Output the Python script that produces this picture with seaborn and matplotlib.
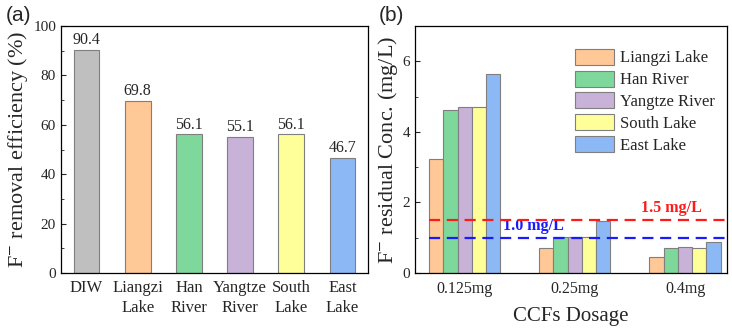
import numpy as np
import pandas as pd
import matplotlib
matplotlib.use('Agg')
import matplotlib.pyplot as plt
from matplotlib.ticker import MultipleLocator
import seaborn as sns

sns.set_style('ticks')
plt.rcParams['font.family'] = ['Liberation Serif', 'DejaVu Serif']
plt.rcParams['mathtext.fontset'] = 'stix'

# ---- data ----
sites = ['DIW', 'Liangzi\nLake', 'Han\nRiver', 'Yangtze\nRiver', 'South\nLake', 'East\nLake']
removal = [90.4, 69.8, 56.1, 55.1, 56.1, 46.7]
site_colors = ['#BFBFBF', '#FFC896', '#7FD89B', '#C8B2D8', '#FFFF99', '#8CB9F5']

dosages = ['0.125mg', '0.25mg', '0.4mg']
waters = ['Liangzi Lake', 'Han River', 'Yangtze River', 'South Lake', 'East Lake']
residual = {
    'Liangzi Lake':  [3.22, 0.72, 0.46],
    'Han River':     [4.63, 1.02, 0.72],
    'Yangtze River': [4.70, 1.02, 0.75],
    'South Lake':    [4.70, 1.03, 0.72],
    'East Lake':     [5.65, 1.48, 0.88],
}
limits = [1.5, 1.0]
limit_labels = ['1.5 mg/L', '1.0 mg/L']
limit_colors = ['#FF1A1A', '#1A1AFF']

EDGE = '#7F7F7F'

fig = plt.figure(figsize=(7.32, 3.29), dpi=100)
ax1 = fig.add_axes([0.0833, 0.170, 0.4194, 0.751])
ax2 = fig.add_axes([0.567, 0.170, 0.426, 0.751])

# ---- (a) removal efficiency ----
dfa = pd.DataFrame({'site': sites, 'removal': removal})
sns.barplot(data=dfa, x='site', y='removal', hue='site', palette=site_colors,
            legend=False, width=0.5, edgecolor=EDGE, linewidth=0.8,
            saturation=1, ax=ax1)
for i, v in enumerate(removal):
    ax1.text(i, v + 0.6, f'{v:.1f}', ha='center', va='bottom', fontsize=11.5)
ax1.set_xlim(-0.5, 5.5)
ax1.set_ylim(0, 100)
ax1.yaxis.set_major_locator(MultipleLocator(20))
ax1.yaxis.set_minor_locator(MultipleLocator(10))
ax1.set_xlabel('')
ax1.set_ylabel(r'F$^{-}$ removal efficiency (%)', fontsize=16, labelpad=2)
ax1.tick_params(axis='y', which='both', direction='in', labelsize=11)
ax1.tick_params(axis='y', which='minor', length=2)
ax1.tick_params(axis='x', length=0, labelsize=12, pad=5)
for t in ax1.get_xticklabels():
    t.set_linespacing(1.3)

# ---- (b) residual concentration ----
dfb = pd.DataFrame([(d, w, residual[w][i]) for i, d in enumerate(dosages) for w in waters],
                   columns=['dosage', 'water', 'conc'])
gw = 0.645
sns.barplot(data=dfb, x='dosage', y='conc', hue='water', hue_order=waters,
            palette=site_colors[1:], width=gw, edgecolor=EDGE, linewidth=0.8,
            gap=0, saturation=1, ax=ax2)
xmax = 2.38
for val, lab, c, tx, ty in zip(limits, limit_labels, limit_colors, [1.88, 0.62], [1.62, 1.12]):
    ax2.plot([-gw / 2, xmax], [val, val], ls=(0, (5, 3)), color=c, lw=1.6, zorder=5)
    ax2.text(tx, ty, lab, color=c, fontsize=11.5, fontweight='bold', ha='center', va='bottom')
ax2.set_xlim(-0.45, xmax)
ax2.set_ylim(0, 7)
ax2.yaxis.set_major_locator(MultipleLocator(2))
ax2.yaxis.set_minor_locator(MultipleLocator(1))
ax2.set_xlabel('CCFs Dosage', fontsize=15, labelpad=7)
ax2.set_ylabel(r'F$^{-}$ residual Conc. (mg/L)', fontsize=16, labelpad=2)
ax2.tick_params(axis='y', which='both', direction='in', labelsize=11)
ax2.tick_params(axis='y', which='minor', length=2)
ax2.tick_params(axis='x', length=0, labelsize=11.5, pad=6)
ax2.legend(loc='upper right', bbox_to_anchor=(1.0, 0.955), frameon=False, fontsize=12,
           handlelength=2.3, handleheight=1.1, labelspacing=0.25, handletextpad=0.4,
           borderaxespad=0.3)

for ax in (ax1, ax2):
    for s in ax.spines.values():
        s.set_visible(True)
        s.set_linewidth(0.9)
        s.set_color('black')

fig.text(0.008, 0.925, '(a)', fontsize=15, family='Liberation Sans', va='bottom')
fig.text(0.518, 0.925, '(b)', fontsize=15, family='Liberation Sans', va='bottom')

fig.savefig('out.png', dpi=100)
